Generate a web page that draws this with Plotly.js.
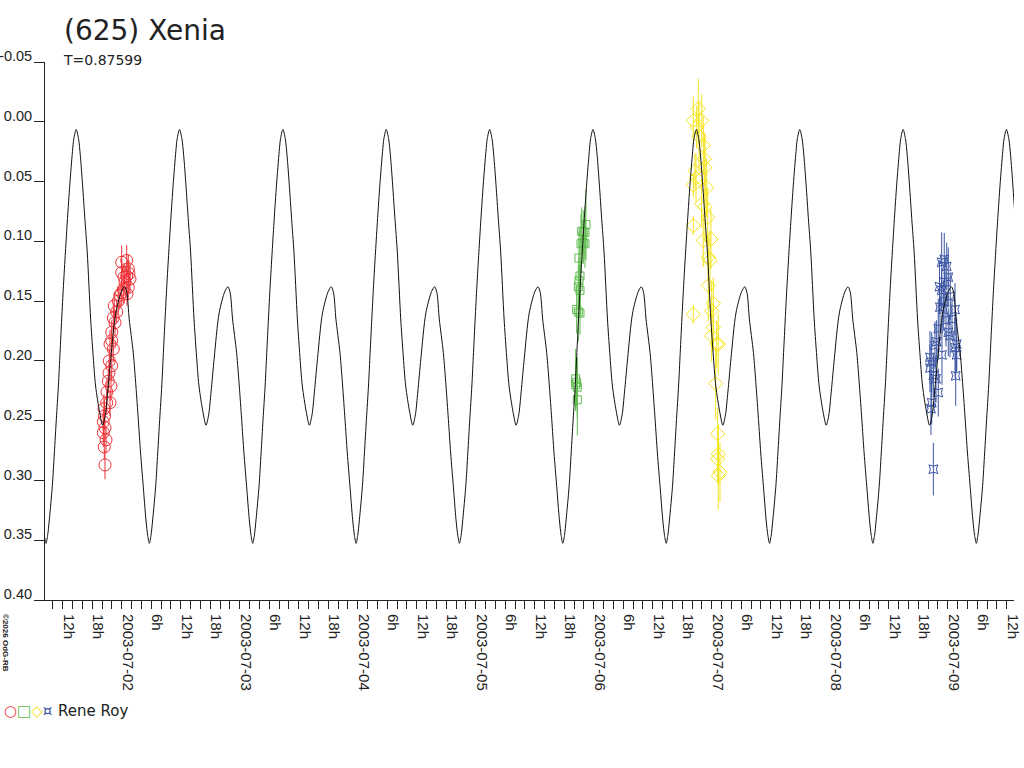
<!DOCTYPE html>
<html>
<head>
<meta charset="utf-8">
<script src="https://cdn.plot.ly/plotly-3.0.1.min.js"></script>
<style>html,body{margin:0;padding:0;background:#fff;}#chart{width:1024px;height:768px;}</style>
</head>
<body>
<div id="chart"></div>
<script>
// ---- data (hours since 2003-07-01 00:00 UT, relative magnitude) ----
const periodDays = 0.87599;          // T printed on the chart
const curveMaxHour = 14.74;          // time of a tall maximum of the fitted curve
const cycleNumbers = [-1, 0, 1, 2, 3, 4, 5, 6, 7, 8, 9];
// one cycle of the fitted curve, phase 0 = tall maximum
const cyclePhase = [0, 0.023, 0.040, 0.062, 0.084, 0.107, 0.140, 0.162, 0.188, 0.227, 0.256, 0.282, 0.305, 0.335, 0.383, 0.438, 0.468, 0.490, 0.513, 0.552, 0.578, 0.601, 0.623, 0.649, 0.675, 0.692, 0.708, 0.724, 0.740, 0.769, 0.789, 0.808, 0.828, 0.844, 0.860, 0.877, 0.896, 0.916, 0.938, 0.964, 0.977];
const cycleMag   = [0.0064, 0.0142, 0.028, 0.053, 0.081, 0.109, 0.165, 0.193, 0.221, 0.243, 0.2538, 0.245, 0.226, 0.198, 0.160, 0.142, 0.138, 0.143, 0.165, 0.193, 0.221, 0.249, 0.277, 0.305, 0.333, 0.346, 0.3526, 0.346, 0.333, 0.305, 0.277, 0.249, 0.221, 0.193, 0.165, 0.137, 0.109, 0.081, 0.053, 0.025, 0.0142];

const redHours = [20.60,20.46,20.81,20.26,20.60,20.26,20.40,20.95,21.62,21.82,21.27,21.42,21.97,21.48,22.29,21.62,21.97,22.64,22.29,22.98,22.49,23.31,23.65,24.00,24.33,25.34,24.67,25.69,25.02,24.00,25.34,24.00,25.02,25.48,24.47,25.08,21.00,20.50,21.97];
const redMag   = [0.287,0.272,0.266,0.260,0.256,0.251,0.240,0.235,0.235,0.221,0.217,0.210,0.204,0.200,0.190,0.186,0.176,0.168,0.164,0.159,0.154,0.150,0.145,0.143,0.140,0.1385,0.134,0.1315,0.129,0.126,0.123,0.1175,0.116,0.127,0.130,0.144,0.226,0.246,0.183];
const redErr   = [0.012,0.010,0.011,0.012,0.010,0.011,0.012,0.010,0.011,0.012,0.010,0.011,0.012,0.010,0.011,0.012,0.010,0.011,0.012,0.010,0.011,0.012,0.010,0.011,0.012,0.010,0.011,0.012,0.010,0.011,0.012,0.014,0.013,0.011,0.012,0.010,0.011,0.012,0.010];

const greenHours = [118.43,117.56,117.88,118.23,117.42,117.88,118.23,117.01,117.21,117.01,117.21,116.87,116.54,116.87,117.21,116.34,116.54,116.34,116.67,116.67];
const greenMag   = [0.086,0.0916,0.092,0.0925,0.102,0.101,0.102,0.114,0.129,0.133,0.141,0.138,0.157,0.159,0.160,0.215,0.218,0.220,0.222,0.2325];
const greenErr   = [0.030,0.020,0.018,0.022,0.025,0.018,0.020,0.022,0.025,0.020,0.022,0.018,0.020,0.025,0.018,0.025,0.020,0.022,0.025,0.030];

const yellowHours = [141.27,140.26,141.97,140.95,142.29,141.42,142.50,140.60,142.64,140.26,140.81,142.98,141.97,142.64,140.26,143.19,142.29,143.85,143.31,143.66,143.31,144.33,140.26,144.00,144.33,144.00,145.34,145.02,144.81,145.22,145.34,145.22,145.69,145.34];
const yellowMag   = [-0.011,-0.001,-0.001,0.0045,0.0198,0.012,0.031,0.041,0.038,0.053,0.047,0.055,0.0687,0.071,0.0868,0.080,0.0994,0.098,0.1133,0.116,0.137,0.152,0.161,0.158,0.172,0.179,0.186,0.186,0.219,0.261,0.278,0.282,0.293,0.296];
const yellowErr   = [0.025,0.020,0.022,0.018,0.025,0.030,0.022,0.015,0.025,0.010,0.020,0.025,0.020,0.030,0.008,0.025,0.022,0.025,0.020,0.025,0.030,0.022,0.008,0.025,0.020,0.022,0.025,0.020,0.030,0.022,0.025,0.020,0.025,0.028];

const blueHours = [191.31,190.78,191.80,190.78,191.45,192.12,190.43,191.10,193.49,190.09,192.12,192.47,193.83,193.49,189.42,189.76,188.40,188.75,188.40,189.09,193.83,193.63,190.09,188.75,188.60,189.09,192.53,192.88,191.66,190.84,189.62,191.25,190.33];
const blueMag   = [0.115,0.1175,0.121,0.141,0.134,0.130,0.155,0.157,0.157,0.173,0.176,0.179,0.186,0.189,0.187,0.184,0.197,0.201,0.206,0.212,0.195,0.2125,0.2265,0.235,0.240,0.2906,0.146,0.165,0.166,0.195,0.215,0.150,0.138];
const blueErr   = [0.022,0.025,0.020,0.018,0.022,0.025,0.020,0.018,0.022,0.025,0.020,0.018,0.022,0.025,0.020,0.018,0.022,0.025,0.020,0.018,0.015,0.025,0.020,0.018,0.022,0.022,0.020,0.018,0.022,0.025,0.020,0.018,0.022];

const xRangeHours = [8.40, 205.49];
const xTickVals = ["2003-07-01 12:00","2003-07-01 18:00","2003-07-02 00:00","2003-07-02 06:00","2003-07-02 12:00","2003-07-02 18:00","2003-07-03 00:00","2003-07-03 06:00","2003-07-03 12:00","2003-07-03 18:00","2003-07-04 00:00","2003-07-04 06:00","2003-07-04 12:00","2003-07-04 18:00","2003-07-05 00:00","2003-07-05 06:00","2003-07-05 12:00","2003-07-05 18:00","2003-07-06 00:00","2003-07-06 06:00","2003-07-06 12:00","2003-07-06 18:00","2003-07-07 00:00","2003-07-07 06:00","2003-07-07 12:00","2003-07-07 18:00","2003-07-08 00:00","2003-07-08 06:00","2003-07-08 12:00","2003-07-08 18:00","2003-07-09 00:00","2003-07-09 06:00","2003-07-09 12:00"];
const xTickText = ["12h","18h","2003-07-02","6h","12h","18h","2003-07-03","6h","12h","18h","2003-07-04","6h","12h","18h","2003-07-05","6h","12h","18h","2003-07-06","6h","12h","18h","2003-07-07","6h","12h","18h","2003-07-08","6h","12h","18h","2003-07-09","6h","12h"];
const yTickVals = [-0.05,0.00,0.05,0.10,0.15,0.20,0.25,0.30,0.35,0.40];
const yTickText = ["-0.05","0.00","0.05","0.10","0.15","0.20","0.25","0.30","0.35","0.40"];

// ---- helpers ----
const BASE = Date.UTC(2003, 6, 1, 0, 0, 0);
function pad(n){ return (n < 10 ? "0" : "") + n; }
function hToDate(h){
  const d = new Date(BASE + Math.round(h * 3600000));
  return d.getUTCFullYear() + "-" + pad(d.getUTCMonth()+1) + "-" + pad(d.getUTCDate()) + " " +
         pad(d.getUTCHours()) + ":" + pad(d.getUTCMinutes()) + ":" + pad(d.getUTCSeconds());
}

// fitted curve: the read cycle repeated with the printed period
const curveX = [], curveY = [];
cycleNumbers.forEach(n => {
  cyclePhase.forEach((p, i) => {
    curveX.push(hToDate(curveMaxHour + (n + p) * periodDays * 24));
    curveY.push(cycleMag[i]);
  });
});

function series(hours, mag, err, color, symbol, size){
  return {
    type: "scatter", mode: "markers",
    x: hours.map(hToDate), y: mag,
    marker: {symbol: symbol, size: size, color: color, line: {color: color, width: 1}},
    error_y: {type: "data", array: err, visible: true, color: color, thickness: 1, width: 0},
    hoverinfo: "skip"
  };
}

const RED = "#ee3338", GREEN = "#5dbb4c", YELLOW = "#f4e41c", BLUE = "#3b55a3";
const traces = [
  series(redHours, redMag, redErr, RED, "circle-open", 12),
  series(greenHours, greenMag, greenErr, GREEN, "square-open", 8),
  series(yellowHours, yellowMag, yellowErr, YELLOW, "diamond-open", 11),
  series(blueHours, blueMag, blueErr, BLUE, "star-square-open", 8),
  {type: "scatter", mode: "lines", x: curveX, y: curveY,
   line: {color: "#111", width: 1, shape: "spline", smoothing: 0.8}, hoverinfo: "skip"}
];

const FONT = "Liberation Sans, Arial, Helvetica, sans-serif";
const TFONT = "DejaVu Sans, Verdana, sans-serif";
const layout = {
  width: 1024, height: 768,
  margin: {l: 45, r: 10, t: 62, b: 168, pad: 0},
  paper_bgcolor: "#fff", plot_bgcolor: "#fff",
  showlegend: false,
  font: {family: FONT, color: "#222", size: 15},
  xaxis: {
    type: "date",
    range: [hToDate(xRangeHours[0]), hToDate(xRangeHours[1])],
    tickmode: "array", tickvals: xTickVals, ticktext: xTickText,
    tickangle: 90, ticks: "outside", ticklen: 8, tickwidth: 1, tickcolor: "#222",
    ticklabelshift: 6, ticklabelstandoff: 2,
    tickfont: {family: FONT, size: 15, color: "#222"},
    showline: true, linecolor: "#222", linewidth: 1,
    showgrid: false, zeroline: false,
    minor: {dtick: 7200000, tick0: "2003-07-01 00:00", ticks: "outside", ticklen: 8, tickwidth: 1, tickcolor: "#222", showgrid: false}
  },
  yaxis: {
    range: [0.40, -0.05],
    tickmode: "array", tickvals: yTickVals, ticktext: yTickText,
    ticks: "outside", ticklen: 10, tickwidth: 1, tickcolor: "#222",
    ticklabelposition: "outside",
    ticklabelshift: 6, ticklabelstandoff: -1,
    tickfont: {family: FONT, size: 14.5, color: "#222"},
    showline: true, linecolor: "#222", linewidth: 1,
    showgrid: false, zeroline: false
  },
  annotations: [
    {xref: "paper", yref: "paper", x: (62-45)/969, y: (600-12)/538, xanchor: "left", yanchor: "top",
     text: "(625) Xenia", showarrow: false, font: {family: TFONT, size: 28, color: "#222"}},
    {xref: "paper", yref: "paper", x: (61-45)/969, y: (600-50)/538, xanchor: "left", yanchor: "top",
     text: "T=0.87599", showarrow: false, font: {family: TFONT, size: 14, color: "#222"}},
    {xref: "paper", yref: "paper", x: (6-45)/969, y: (600-643)/538, xanchor: "center", yanchor: "middle",
     text: "<b>©2026 OdG-RB</b>", textangle: 90, showarrow: false, font: {family: FONT, size: 8, color: "#222"}},
    {xref: "paper", yref: "paper", x: (2-45)/969, y: (600-711)/538, xanchor: "left", yanchor: "middle",
     text: '<span style="color:' + RED + '">○</span><span style="color:' + GREEN + '">□</span><span style="color:' + YELLOW + '">◇</span><span style="color:' + BLUE + '">¤</span>',
     showarrow: false, font: {family: TFONT, size: 15, color: "#222"}},
    {xref: "paper", yref: "paper", x: (56-45)/969, y: (600-711)/538, xanchor: "left", yanchor: "middle",
     text: "Rene Roy", showarrow: false, font: {family: TFONT, size: 15, color: "#222"}}
  ]
};

Plotly.newPlot("chart", traces, layout, {staticPlot: true, displayModeBar: false});
</script>
</body>
</html>
